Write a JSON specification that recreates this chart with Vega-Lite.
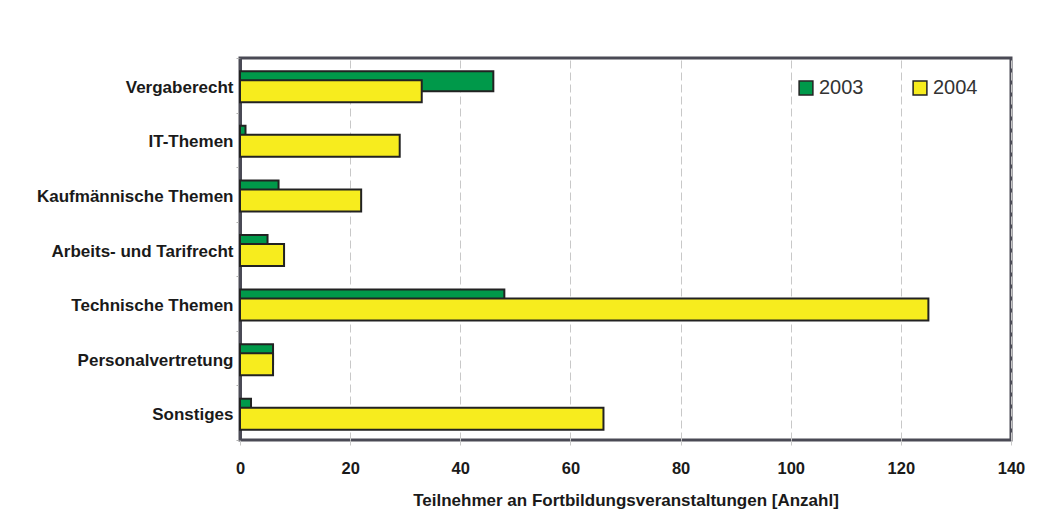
{
  "$schema": "https://vega.github.io/schema/vega-lite/v6.json",
  "width": 771,
  "height": 382,
  "autosize": "none",
  "padding": {"left": 240, "top": 58, "right": 38, "bottom": 89},
  "background": "white",
  "config": {
    "font": "Liberation Sans",
    "view": {"stroke": "#4a4a55", "strokeWidth": 3},
    "legend": {
      "labelFont": "Liberation Sans",
      "labelFontSize": 20,
      "labelColor": "#333333",
      "symbolType": "square",
      "symbolSize": 190,
      "symbolStrokeColor": "#222222",
      "symbolStrokeWidth": 1.5,
      "labelOffset": 3,
      "columnPadding": 46
    }
  },
  "data": {
    "values": [
      {"category": "Vergaberecht", "year": "2003", "value": 46},
      {"category": "Vergaberecht", "year": "2004", "value": 33},
      {"category": "IT-Themen", "year": "2003", "value": 1},
      {"category": "IT-Themen", "year": "2004", "value": 29},
      {"category": "Kaufmännische Themen", "year": "2003", "value": 7},
      {"category": "Kaufmännische Themen", "year": "2004", "value": 22},
      {"category": "Arbeits- und Tarifrecht", "year": "2003", "value": 5},
      {"category": "Arbeits- und Tarifrecht", "year": "2004", "value": 8},
      {"category": "Technische Themen", "year": "2003", "value": 48},
      {"category": "Technische Themen", "year": "2004", "value": 125},
      {"category": "Personalvertretung", "year": "2003", "value": 6},
      {"category": "Personalvertretung", "year": "2004", "value": 6},
      {"category": "Sonstiges", "year": "2003", "value": 2},
      {"category": "Sonstiges", "year": "2004", "value": 66}
    ]
  },
  "encoding": {
    "y": {
      "field": "category",
      "type": "nominal",
      "sort": null,
      "scale": {"paddingInner": 0, "paddingOuter": 0},
      "axis": {
        "title": null,
        "labelFontSize": 17,
        "labelFontWeight": "bold",
        "labelColor": "#1a1a1a",
        "labelPadding": 3,
        "labelLimit": 300,
        "labelOffset": 2,
        "tickBand": "extent",
        "tickSize": 4,
        "tickColor": "#b0b0b0",
        "domainColor": "#4a4a55",
        "domainWidth": 3
      }
    },
    "x": {
      "field": "value",
      "type": "quantitative",
      "scale": {"domain": [0, 140], "nice": false},
      "axis": {
        "title": "Teilnehmer an Fortbildungsveranstaltungen [Anzahl]",
        "titleFontSize": 17,
        "titleFontWeight": "bold",
        "titleColor": "#1a1a1a",
        "titlePadding": 16,
        "values": [0, 20, 40, 60, 80, 100, 120, 140],
        "labelFlush": false,
        "labelFontSize": 16.5,
        "labelFontWeight": "bold",
        "labelColor": "#1a1a1a",
        "labelPadding": 15,
        "tickSize": 5,
        "tickColor": "#c8c8c8",
        "domain": false,
        "grid": true,
        "gridColor": "#c8c8c8",
        "gridDash": [8, 4],
        "gridWidth": 1
      }
    },
    "color": {
      "field": "year",
      "type": "nominal",
      "scale": {"domain": ["2003", "2004"], "range": ["#00994a", "#f7ec1e"]},
      "legend": {"title": null, "orient": "none", "direction": "horizontal", "legendX": 556, "legendY": 20}
    }
  },
  "layer": [
    {
      "transform": [{"filter": "datum.year === '2003'"}],
      "mark": {"type": "bar", "height": 20, "yOffset": -4, "stroke": "#222222", "strokeWidth": 2}
    },
    {
      "transform": [{"filter": "datum.year === '2004'"}],
      "mark": {"type": "bar", "height": 22, "yOffset": 6, "stroke": "#222222", "strokeWidth": 2}
    }
  ]
}
